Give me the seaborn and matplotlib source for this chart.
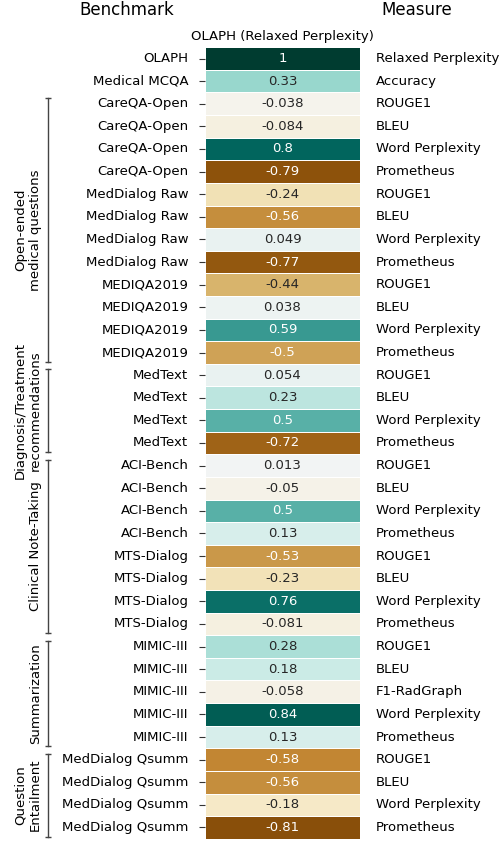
import pandas as pd
import matplotlib.pyplot as plt
import matplotlib.transforms as mtransforms
import seaborn as sns

col_name = 'OLAPH (Relaxed Perplexity)'

benchmarks = ['OLAPH', 'Medical MCQA'] + ['CareQA-Open'] * 4 + ['MedDialog Raw'] * 4 \
    + ['MEDIQA2019'] * 4 + ['MedText'] * 4 + ['ACI-Bench'] * 4 + ['MTS-Dialog'] * 4 \
    + ['MIMIC-III'] * 5 + ['MedDialog Qsumm'] * 4

std4 = ['ROUGE1', 'BLEU', 'Word Perplexity', 'Prometheus']
measures = ['Relaxed Perplexity', 'Accuracy'] + std4 * 6 \
    + ['ROUGE1', 'BLEU', 'F1-RadGraph', 'Word Perplexity', 'Prometheus'] \
    + ['ROUGE1', 'BLEU', 'Word Perplexity', 'Prometheus']

corr = [1, 0.33, -0.038, -0.084, 0.8, -0.79, -0.24, -0.56, 0.049, -0.77,
        -0.44, 0.038, 0.59, -0.5, 0.054, 0.23, 0.5, -0.72, 0.013, -0.05,
        0.5, 0.13, -0.53, -0.23, 0.76, -0.081, 0.28, 0.18, -0.058, 0.84,
        0.13, -0.58, -0.56, -0.18, -0.81]

# (label, first row, last row)
groups = [
    ('Open-ended\nmedical questions', 2, 13),
    ('Diagnosis/Treatment\nrecommendations', 14, 17),
    ('Clinical Note-Taking', 18, 25),
    ('Summarization', 26, 30),
    ('Question\nEntailment', 31, 34),
]

df = pd.DataFrame({col_name: corr}, index=benchmarks)

fig = plt.figure(figsize=(5, 8.43), dpi=100)
ax = fig.add_axes([0.41, 0.005, 0.31, 0.939])
sns.heatmap(df, ax=ax, annot=True, cmap='BrBG', vmin=-1, vmax=1, cbar=False,
            linewidths=0.5, linecolor='white', annot_kws={'fontsize': 9.5})

ax.set_yticks([i + 0.5 for i in range(len(benchmarks))])
ax.set_yticklabels(benchmarks, fontsize=9.5, rotation=0)
ax.tick_params(axis='y', length=4, pad=8, color='#333333')
ax.set_xticks([])
ax.set_xlabel('')
ax.set_ylabel('')
ax.set_title(col_name, fontsize=9.5, pad=5)

# measure names on the right
for i, m in enumerate(measures):
    ax.text(1.1, i + 0.5, m, transform=mtransforms.blended_transform_factory(ax.transAxes, ax.transData),
            ha='left', va='center', fontsize=9.5)

# group brackets on the left
trans = mtransforms.blended_transform_factory(fig.transFigure, ax.transData)
for label, r0, r1 in groups:
    y0, y1 = r0 + 0.25, r1 + 0.9
    ax.plot([0.096, 0.096], [y0, y1], transform=trans, color='#444444', lw=1,
            marker='_', markersize=5, clip_on=False)
    ax.text(0.084, (y0 + y1) / 2, label, transform=trans, rotation=90,
            ha='right', va='center', fontsize=9.5, multialignment='center')

fig.text(0.254, 0.988, 'Benchmark', ha='center', va='center', fontsize=12)
fig.text(0.834, 0.988, 'Measure', ha='center', va='center', fontsize=12)

fig.savefig('out.png', dpi=100)
